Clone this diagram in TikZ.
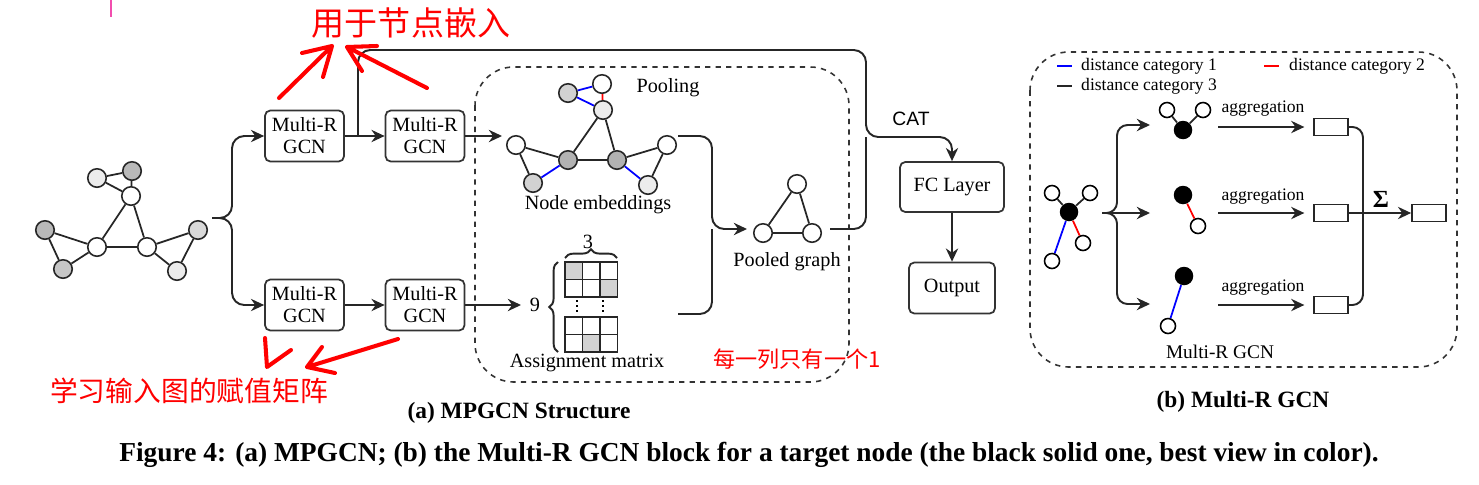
\documentclass[tikz,border=0pt]{standalone}
\usepackage{fontspec}
\setmainfont{Liberation Serif}
\setsansfont{Liberation Sans}
\newfontfamily\cjk{Noto Sans CJK SC}
\usetikzlibrary{arrows.meta,decorations.pathreplacing}

\begin{document}
\begin{tikzpicture}[x=0.02cm, y=-0.02cm,
	every node/.style={font=\fontsize{11.5}{12.5}\selectfont},
	gcn/.style={draw=black!80, line width=1pt, rounded corners=3pt, minimum width=1.58cm, minimum height=1.02cm, align=center, inner sep=1pt},
	vtx/.style={circle, draw=black!85, line width=0.9pt, minimum size=0.37cm, inner sep=0pt, fill=white},
	svtx/.style={circle, draw=black, line width=0.9pt, minimum size=0.3cm, inner sep=0pt, fill=white},
	tvtx/.style={circle, fill=black, minimum size=0.37cm, inner sep=0pt},
	link/.style={line width=1pt, black!85},
	conn/.style={line width=1.1pt, black!85},
	arr/.style={conn, -{Stealth[length=7.5pt, width=7pt]}},
	pool/.style={draw=black!80, dashed, line width=0.9pt, rounded corners=22pt},
	vec/.style={draw=black!85, line width=1pt, minimum width=0.68cm, minimum height=0.34cm, inner sep=0pt},
	smalltxt/.style={font=\fontsize{10}{12}\selectfont},
	captxt/.style={font=\bfseries\fontsize{13.3}{15}\selectfont},
	note/.style={red, line width=2.3pt, line cap=round, line join=round}]
	\useasboundingbox (0,0) rectangle (1479,484);

	% cursor mark
	\draw[magenta!70, line width=1pt] (111,0) -- (111,17);

	% input graph
	\node[vtx, fill=gray!15] (g1) at (97,178) {};
	\node[vtx, fill=gray!55] (g2) at (132,171) {};
	\node[vtx] (g3) at (131,196) {};
	\node[vtx, fill=gray!55] (g4) at (45,230) {};
	\node[vtx] (g5) at (97,247) {};
	\node[vtx] (g6) at (147,247) {};
	\node[vtx, fill=gray!45] (g7) at (63,269) {};
	\node[vtx, fill=gray!30] (g8) at (198,230) {};
	\node[vtx, fill=gray!15] (g9) at (177,271) {};
	\draw[link] (g1) -- (g2) (g1) -- (g3) (g2) -- (g3) (g3) -- (g5) (g3) -- (g6) (g5) -- (g6)
		(g4) -- (g5) (g4) -- (g7) (g7) -- (g5) (g6) -- (g8) (g6) -- (g9) (g8) -- (g9);

	% Multi-R GCN blocks
	\node[gcn] (gcn1) at (304.5,136) {Multi-R\\GCN};
	\node[gcn] (gcn2) at (425,136) {Multi-R\\GCN};
	\node[gcn] (gcn3) at (304.5,305) {Multi-R\\GCN};
	\node[gcn] (gcn4) at (425,305) {Multi-R\\GCN};
	\coordinate (gin) at (212,218);
	\coordinate (gj) at (232,218);
	\draw[arr, rounded corners=7pt] (gin) -- (gj) |- (gcn1.west);
	\draw[arr, rounded corners=7pt] (gin) -- (gj) |- (gcn3.west);
	\draw[arr] (gcn1) -- (gcn2);
	\draw[arr] (gcn3) -- (gcn4);

	% Pooling
	\draw[pool] (475,67) rectangle (849,382);
	\node (pooltxt) at (668,88) {Pooling};
	\coordinate (ein) at (502,136);
	\draw[arr] (gcn2.east) -- (ein);

	% node embeddings
	\node[vtx, fill=gray!35] (e1) at (568,93) {};
	\node[vtx] (e2) at (602,84) {};
	\node[vtx, fill=gray!15] (e3) at (603,110) {};
	\node[vtx] (e4) at (516,145) {};
	\node[vtx, fill=gray!60] (e5) at (568,160) {};
	\node[vtx, fill=gray!60] (e6) at (617,160) {};
	\node[vtx, fill=gray!35] (e7) at (533,183) {};
	\node[vtx] (e8) at (667,145) {};
	\node[vtx, fill=gray!15] (e9) at (648,185) {};
	\draw[link, blue] (e1) -- (e2) (e1) -- (e3) (e7) -- (e5) (e6) -- (e9);
	\draw[link, red] (e2) -- (e3);
	\draw[link] (e3) -- (e5) (e3) -- (e6) (e5) -- (e6) (e4) -- (e5) (e4) -- (e7) (e6) -- (e8) (e8) -- (e9);
	\node (emb) at (598,205) {Node embeddings};

	% assignment matrix
	\foreach \c/\r in {0/0, 2/1} \fill[gray!35] (565+17.5*\c,262+17.5*\r) rectangle ++(17.5,17.5);
	\fill[gray!35] (565+17.5,317+17.5) rectangle ++(17.5,17.5);
	\foreach \c in {0,1,2} \foreach \r in {0,1} {
		\draw[line width=1pt, black!85] (565+17.5*\c,262+17.5*\r) rectangle ++(17.5,17.5);
		\draw[line width=1pt, black!85] (565+17.5*\c,317+17.5*\r) rectangle ++(17.5,17.5);
	}
	\draw[line width=0.9pt, dotted] (577,300) -- (577,314) (603,300) -- (603,314);
	\draw[conn, decorate, decoration={brace, amplitude=5pt}] (565,258) -- (617,258);
	\draw[conn, decorate, decoration={brace, amplitude=5pt}] (558,352) -- (558,262);
	\node (cols) at (588,242) {3};
	\node (rows) at (535,305) {9};
	\node (amx) at (587,363) {Assignment matrix};
	\coordinate (min) at (521,305);
	\draw[arr] (gcn4.east) -- (min);

	% pooled graph
	\node[vtx] (p1) at (797,184) {};
	\node[vtx] (p2) at (763,233) {};
	\node[vtx] (p3) at (812,233) {};
	\draw[link] (p1) -- (p2) (p1) -- (p3) (p2) -- (p3);
	\node (pg) at (787,262) {Pooled graph};
	\coordinate (eout) at (678,136);
	\coordinate (mout) at (678,314);
	\coordinate (pj) at (712,229);
	\coordinate (pin) at (747,229);
	\draw[arr, rounded corners=7pt] (eout) -| (pj) -- (pin);
	\draw[conn, rounded corners=7pt] (mout) -| (pj);

	% concat, FC and output
	\node[gcn, minimum width=2.08cm, minimum height=1cm] (fc) at (952,187) {FC Layer};
	\node[gcn, minimum width=1.72cm, minimum height=1.02cm] (out) at (952,288) {Output};
	\coordinate (tap) at (358,136);
	\coordinate (cat) at (866,137);
	\coordinate (pout) at (830,229);
	\draw[arr, rounded corners=7pt] (tap) |- (866,50) -- (cat) -| (fc.north);
	\draw[conn, rounded corners=7pt] (pout) -| (cat);
	\draw[arr] (fc) -- (out);
	\node[font=\sffamily\fontsize{11}{13}\selectfont] (catlbl) at (911,119) {CAT};

	% (b) Multi-R GCN block
	\draw[pool] (1030,52) rectangle (1457,367);
	\node[smalltxt, anchor=west] (leg1) at (1075,66) {distance category 1};
	\node[smalltxt, anchor=west] (leg2) at (1283,66) {distance category 2};
	\node[smalltxt, anchor=west] (leg3) at (1075,86) {distance category 3};
	\draw[line width=1pt, blue] (1057,66) -- (1072,66);
	\draw[line width=1pt, red] (1264,66) -- (1279,66);
	\draw[line width=1pt, black!85] (1057,86) -- (1072,86);

	\node[tvtx] (t0) at (1069,212) {};
	\node[svtx] (t1) at (1052,193) {};
	\node[svtx] (t2) at (1090,193) {};
	\node[svtx] (t3) at (1083,243) {};
	\node[svtx] (t4) at (1052,261) {};
	\draw[link] (t0) -- (t1) (t0) -- (t2);
	\draw[link, red] (t0) -- (t3);
	\draw[link, blue] (t0) -- (t4);

	\coordinate (bin) at (1102,213);
	\coordinate (bj) at (1117,213);
	\coordinate (c1) at (1150,125);
	\coordinate (c2) at (1150,213);
	\coordinate (c3) at (1150,304);
	\draw[arr, rounded corners=6pt] (bin) -- (bj) |- (c1);
	\draw[arr, rounded corners=6pt] (bin) -- (bj) |- (c3);
	\draw[arr] (bin) -- (c2);

	\node[tvtx] (s1b) at (1183,130) {};
	\node[svtx] (s1a) at (1167,110) {};
	\node[svtx] (s1c) at (1203,110) {};
	\draw[link] (s1b) -- (s1a) (s1b) -- (s1c);
	\node[tvtx] (s2b) at (1183,195) {};
	\node[svtx] (s2a) at (1198,226) {};
	\draw[link, red] (s2b) -- (s2a);
	\node[tvtx] (s3b) at (1184,276) {};
	\node[svtx] (s3a) at (1168,326) {};
	\draw[link, blue] (s3b) -- (s3a);

	\node[vec] (r1) at (1331,127) {};
	\node[vec] (r2) at (1331,213) {};
	\node[vec] (r3) at (1331,305) {};
	\node[vec] (rf) at (1429,213) {};
	\coordinate (ag1) at (1218,127);
	\coordinate (ag2) at (1218,213);
	\coordinate (ag3) at (1218,305);
	\draw[arr, shorten >=5pt] (ag1) -- (r1.west);
	\draw[arr, shorten >=5pt] (ag2) -- (r2.west);
	\draw[arr, shorten >=5pt] (ag3) -- (r3.west);
	\node[smalltxt] (agl1) at (1263,109) {aggregation};
	\node[smalltxt] (agl2) at (1263,197) {aggregation};
	\node[smalltxt] (agl3) at (1263,288) {aggregation};
	\coordinate (sj) at (1363,213);
	\draw[conn, rounded corners=6pt] (r1.east) -| (sj);
	\draw[conn, rounded corners=6pt] (r3.east) -| (sj);
	\draw[arr] (r2.east) -- (rf.west);
	\node[font=\bfseries\fontsize{14}{16}\selectfont] (sig) at (1381,199) {Σ};
	\node[font=\fontsize{11}{13}\selectfont] (mrg) at (1220,352) {Multi-R GCN};

	% captions
	\node[captxt] (capa) at (519,413) {(a) MPGCN Structure};
	\node[captxt] (capb) at (1243,402) {(b) Multi-R GCN};
	\node[captxt, font=\bfseries\fontsize{15.6}{17}\selectfont] (fig) at (749,455) {Figure 4: (a) MPGCN; (b) the Multi-R GCN block for a target node (the black solid one, best view in color).};

	% red notes
	\node[text=red, font=\cjk\fontsize{18.8}{20}\selectfont] (usenote) at (411,23) {用于节点嵌入};
	\node[text=red, font=\cjk\fontsize{15.8}{18}\selectfont] (learnnote) at (189,391) {学习输入图的赋值矩阵};
	\node[text=red, font=\cjk\fontsize{12.6}{14}\selectfont] (colnote) at (797,359) {每一列只有一个1};
	\draw[note] (279,98) -- (332,46) (302,53) -- (332,46) -- (323,77);
	\draw[note] (427,88) -- (347,47) (377,46) -- (347,47) -- (362,71);
	\draw[note] (265,338) -- (267,367) -- (291,350);
	\draw[note] (398,339) -- (307,367) (322,347) -- (307,367) -- (335,373);
\end{tikzpicture}
\end{document}
